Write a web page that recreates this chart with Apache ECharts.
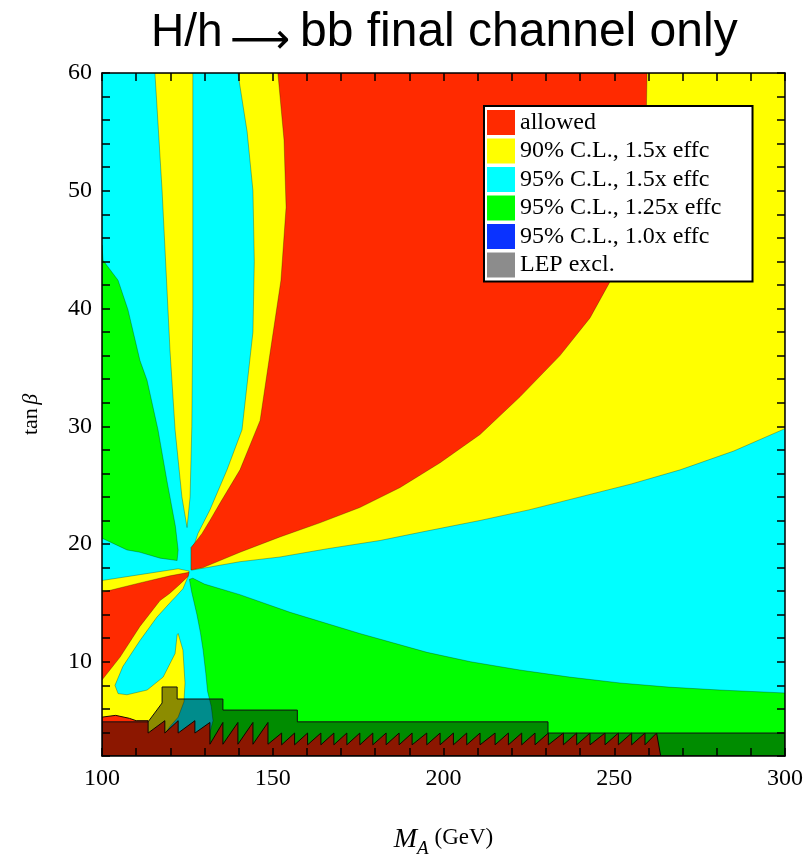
<!DOCTYPE html>
<html>
<head>
<meta charset="utf-8">
<script src="https://cdn.jsdelivr.net/npm/echarts@6/dist/echarts.min.js"></script>
<style>
  html, body { margin: 0; padding: 0; background: #fff; }
  #chart { width: 807px; height: 854px; }
</style>
</head>
<body>
<div id="chart"></div>
<script>
var RED = '#ff2a00', YELLOW = '#ffff00', CYAN = '#00ffff', GREEN = '#00ff00', BLUE = '#0a32ff', GREY = '#8c8c8c';

var legendNames = ['allowed', '90% C.L., 1.5x effc', '95% C.L., 1.5x effc', '95% C.L., 1.25x effc', '95% C.L., 1.0x effc', 'LEP excl.'];

// region outlines, [M_A (GeV), tan beta]
var plotCorners = [[100, 2], [300, 2], [300, 60], [100, 60]];

var yellowRight = [[126.1, 17.8], [126.6, 17.8], [130.7, 18.0], [140.4, 18.5], [152.1, 18.9], [166.0, 19.6], [181.4, 20.3],
  [195.0, 21.1], [210.7, 22.0], [225.0, 22.9], [240, 24.0], [255.0, 25.1], [269.3, 26.3], [285.0, 27.9], [300, 29.8],
  [300, 60], [139.8, 60], [142.5, 55], [144.2, 50], [144.6, 44], [144.2, 38], [141.0, 29.7], [136.6, 26.3], [131.6, 22.9],
  [128.1, 20.9], [127.2, 20.1], [126.1, 19.7]];

var yellowMiddle = [[115.5, 60], [117.6, 50], [119.9, 36.5], [121.4, 29.7], [123.4, 24.0], [124.9, 21.4], [125.8, 24.0],
  [126.3, 30], [126.6, 40], [126.6, 60]];

var yellowLowLeft = [[100, 16.9], [111.1, 17.4], [122.3, 17.9], [125.5, 17.7], [125.3, 17.3], [123.7, 16.2], [121.5, 15.5],
  [120.5, 15.2], [116.1, 13.8], [111.1, 11.8], [106.1, 9.6], [103.8, 8.0], [104.7, 7.3], [107.3, 7.2], [113.2, 7.6],
  [117.9, 8.7], [121.4, 10.7], [122.0, 12.3], [122.3, 12.4], [123.7, 11.0], [124.3, 8.2], [124.0, 6.6], [122.3, 5.3],
  [119.9, 4.5], [118.4, 3.9], [118.4, 2], [100, 2]];

var redMain = [[126.1, 17.8], [129.6, 18.0], [140.4, 19.3], [152.1, 20.6], [163.8, 21.8], [175.5, 23.1], [187.3, 24.8],
  [199.0, 26.9], [210.7, 29.3], [222.4, 32.5], [234.1, 36.0], [242.9, 39.2], [248.8, 42.3], [253.7, 45.8], [257.5, 49.8],
  [259.3, 55.1], [259.6, 60], [151.5, 60], [153.3, 54.3], [153.9, 48.6], [152.4, 42.4], [148.9, 35.6], [146.3, 30.5],
  [140.4, 26.3], [134.6, 23.5], [131.6, 22.0], [129.3, 20.9], [127.2, 20.1], [126.1, 19.7]];

var redWedge = [[100, 15.9], [111.1, 16.7], [119.9, 17.3], [125.5, 17.6], [125.2, 17.25], [122.5, 16.5], [119.8, 15.8],
  [117.0, 15.2], [111.1, 13.0], [105.3, 10.4], [100, 8.45]];

var greenUpper = [[100, 45.4], [100.3, 44.1], [104.7, 42.4], [107.6, 39.9], [111.1, 35.6], [113.2, 33.9], [116.4, 29.7],
  [119.0, 25.4], [119.9, 24.0], [121.5, 21.5], [122.3, 19.5], [122.0, 18.6], [117.0, 18.8], [111.1, 19.3], [107.3, 19.5],
  [100, 20.5]];

var greenLower = [[125.6, 17.0], [126.6, 17.1], [130, 16.6], [140.4, 15.7], [155.1, 14.2], [175.5, 12.4], [195.2, 10.8],
  [208.0, 10.0], [222.4, 9.3], [237.0, 8.7], [251.7, 8.2], [266.0, 7.85], [281, 7.6], [300, 7.35], [300, 2], [131.6, 2],
  [131.6, 4.0], [132.5, 5.0], [132.0, 6.2], [130.9, 7.5], [130.4, 9.0], [129.6, 11.0], [128.8, 12.5], [127.8, 14.0],
  [127.0, 15.0], [126.2, 16.0]];

// red floor under the LEP band: left block, then the saw teeth
var floorLeft = [[100, 2], [100, 5.3], [104, 5.45], [108, 5.2], [110, 5.0]];
var toothX = [113.5, 118.4, 122.3, 127.2, 131.6, 135.4, 139.8, 144.2, 148.6, 152.6, 156.4, 160.2, 164.1, 167.9, 171.7,
  175.5, 179.3, 183.2, 187.0, 190.8, 195.1, 199.0, 202.9, 206.8, 210.7, 215.1, 219.0, 222.9, 226.8, 230.7, 235.1, 239.0,
  242.9, 247.3, 251.2, 255.1, 259.0, 262.4];
var toothPeak = [5.0, 5.0, 5.0, 5.0, 4.85, 4.85, 4.85, 4.85, 4.85, 3.95, 3.95, 3.95, 3.95, 3.95, 3.95, 3.95, 3.95, 3.95,
  3.95, 3.95, 3.95, 3.95, 3.95, 3.95, 3.95, 3.95, 3.95, 3.95, 3.95, 3.95, 3.95, 3.95, 3.95, 3.95, 3.95, 3.95, 3.95, 3.95];
var toothLow = [3.95, 3.95, 3.95, 3.95, 3.0, 3.0, 3.0, 3.0, 3.0, 2.95, 2.95, 2.95, 2.95, 2.95, 2.95, 2.95, 2.95, 2.95,
  2.95, 2.95, 2.95, 2.95, 2.95, 2.95, 2.95, 2.95, 2.95, 2.95, 2.95, 2.95, 2.95, 2.95, 2.95, 2.95, 2.95, 2.95, 2.95, 3.95];
var floorEnd = [[263.6, 2]];

var lepExcl = [[100, 2], [100, 4.9], [113.5, 4.9], [117.6, 6.5], [117.6, 7.86], [122.0, 7.86], [122.0, 6.84],
  [135.4, 6.84], [135.4, 5.9], [157.2, 5.9], [157.2, 4.9], [230.6, 4.9], [230.6, 3.95], [300, 3.95], [300, 2]];

var redFloor = floorLeft.slice();
for (var k = 0; k < toothX.length; k++) {
  redFloor.push([toothX[k], toothPeak[k]], [toothX[k], toothLow[k]]);
}
redFloor = redFloor.concat(floorEnd);

var serif = 'Liberation Serif';

function region(name, color, pts, edge, fill, width) {
  return {
    type: 'custom',
    name: name,
    coordinateSystem: 'cartesian2d',
    clip: true,
    silent: true,
    itemStyle: { color: color },
    encode: { x: 0, y: 1 },
    data: pts,
    renderItem: function (params, api) {
      if (params.dataIndex > 0) return null;
      return {
        type: 'polygon',
        shape: { points: pts.map(function (p) { return api.coord(p); }) },
        style: { fill: fill || color, stroke: edge || null, lineWidth: edge ? (width || 0.8) : 0 }
      };
    }
  };
}

var edge = 'rgba(0,0,0,0.35)';

var chart = echarts.init(document.getElementById('chart'));
chart.setOption({
  animation: false,
  backgroundColor: '#fff',
  graphic: [
    { type: 'text', x: 151, y: 33, style: { text: 'H/h', font: '46px "Liberation Sans"', fill: '#000', align: 'left', verticalAlign: 'middle' } },
    { type: 'text', x: 260, y: 42, style: { text: '\u27f6', font: '42px "DejaVu Sans"', fill: '#000', align: 'center', verticalAlign: 'middle' } },
    { type: 'text', x: 300, y: 33, style: { text: 'bb final channel only', font: '48px "Liberation Sans"', fill: '#000', align: 'left', verticalAlign: 'middle' } }
  ],
  grid: { left: 102, right: 22, top: 73, bottom: 98, containLabel: false, outerBoundsMode: 'none' },
  legend: {
    orient: 'vertical',
    left: 484,
    top: 106,
    data: legendNames,
    icon: 'rect',
    itemWidth: 28,
    itemHeight: 25,
    itemGap: 3.5,
    padding: [4, 31, 4, 3],
    backgroundColor: '#fff',
    borderColor: '#000',
    borderWidth: 2,
    selectedMode: false,
    textStyle: { fontFamily: serif, fontSize: 24, color: '#000' }
  },
  xAxis: [
    {
      type: 'value', min: 100, max: 300, interval: 10, position: 'bottom', z: 10,
      axisLine: { show: true, lineStyle: { color: '#000', width: 1.5 } },
      axisTick: { inside: true, length: 8, lineStyle: { color: '#000', width: 1.5 } },
      axisLabel: {
        margin: 11, fontFamily: serif, fontSize: 24, color: '#000',
        formatter: function (v) { return v % 50 === 0 ? String(v) : ''; }
      },
      splitLine: { show: false },
      name: '{m|M}{s|A}{g| (GeV)}',
      nameLocation: 'middle',
      nameGap: 70,
      nameTextStyle: {
        color: '#000',
        rich: {
          m: { fontFamily: serif, fontStyle: 'italic', fontSize: 28, lineHeight: 28, verticalAlign: 'top', color: '#000' },
          s: { fontFamily: serif, fontStyle: 'italic', fontSize: 19, lineHeight: 19, padding: [13, 0, 0, 0], verticalAlign: 'top', color: '#000' },
          g: { fontFamily: serif, fontSize: 23, lineHeight: 28, verticalAlign: 'top', color: '#000' }
        }
      }
    },
    {
      type: 'value', min: 100, max: 300, interval: 10, position: 'top', z: 10,
      axisLine: { show: true, lineStyle: { color: '#000', width: 1.5 } },
      axisTick: { inside: true, length: 8, lineStyle: { color: '#000', width: 1.5 } },
      axisLabel: { show: false },
      splitLine: { show: false }
    }
  ],
  yAxis: [
    {
      type: 'value', min: 2, max: 60, interval: 2, position: 'left', z: 10,
      axisLine: { show: true, lineStyle: { color: '#000', width: 1.5 } },
      axisTick: { inside: true, length: 8, lineStyle: { color: '#000', width: 1.5 } },
      axisLabel: {
        margin: 10, fontFamily: serif, fontSize: 24, color: '#000',
        formatter: function (v) { return v % 10 === 0 ? String(v) : ''; }
      },
      splitLine: { show: false },
      name: '{t|tan} {b|\u03b2}',
      nameLocation: 'middle',
      nameGap: 60,
      nameTextStyle: {
        color: '#000',
        rich: {
          t: { fontFamily: serif, fontSize: 22, color: '#000' },
          b: { fontFamily: serif, fontStyle: 'italic', fontSize: 22, color: '#000' }
        }
      }
    },
    {
      type: 'value', min: 2, max: 60, interval: 2, position: 'right', z: 10,
      axisLine: { show: true, lineStyle: { color: '#000', width: 1.5 } },
      axisTick: { inside: true, length: 8, lineStyle: { color: '#000', width: 1.5 } },
      axisLabel: { show: false },
      splitLine: { show: false }
    }
  ],
  series: [
    region('95% C.L., 1.5x effc', CYAN, plotCorners),
    region('90% C.L., 1.5x effc', YELLOW, yellowRight, edge),
    region('90% C.L., 1.5x effc', YELLOW, yellowMiddle, edge),
    region('90% C.L., 1.5x effc', YELLOW, yellowLowLeft, edge),
    region('allowed', RED, redMain, edge),
    region('allowed', RED, redWedge, edge),
    region('95% C.L., 1.25x effc', GREEN, greenUpper, edge),
    region('95% C.L., 1.25x effc', GREEN, greenLower, edge),
    region('allowed', RED, redFloor, '#1a0800', null, 1),
    { type: 'custom', name: '95% C.L., 1.0x effc', coordinateSystem: 'cartesian2d', itemStyle: { color: BLUE }, data: [], renderItem: function () { return null; } },
    region('LEP excl.', GREY, lepExcl, '#111', 'rgba(0,0,0,0.45)', 1)
  ]
});
</script>
</body>
</html>
